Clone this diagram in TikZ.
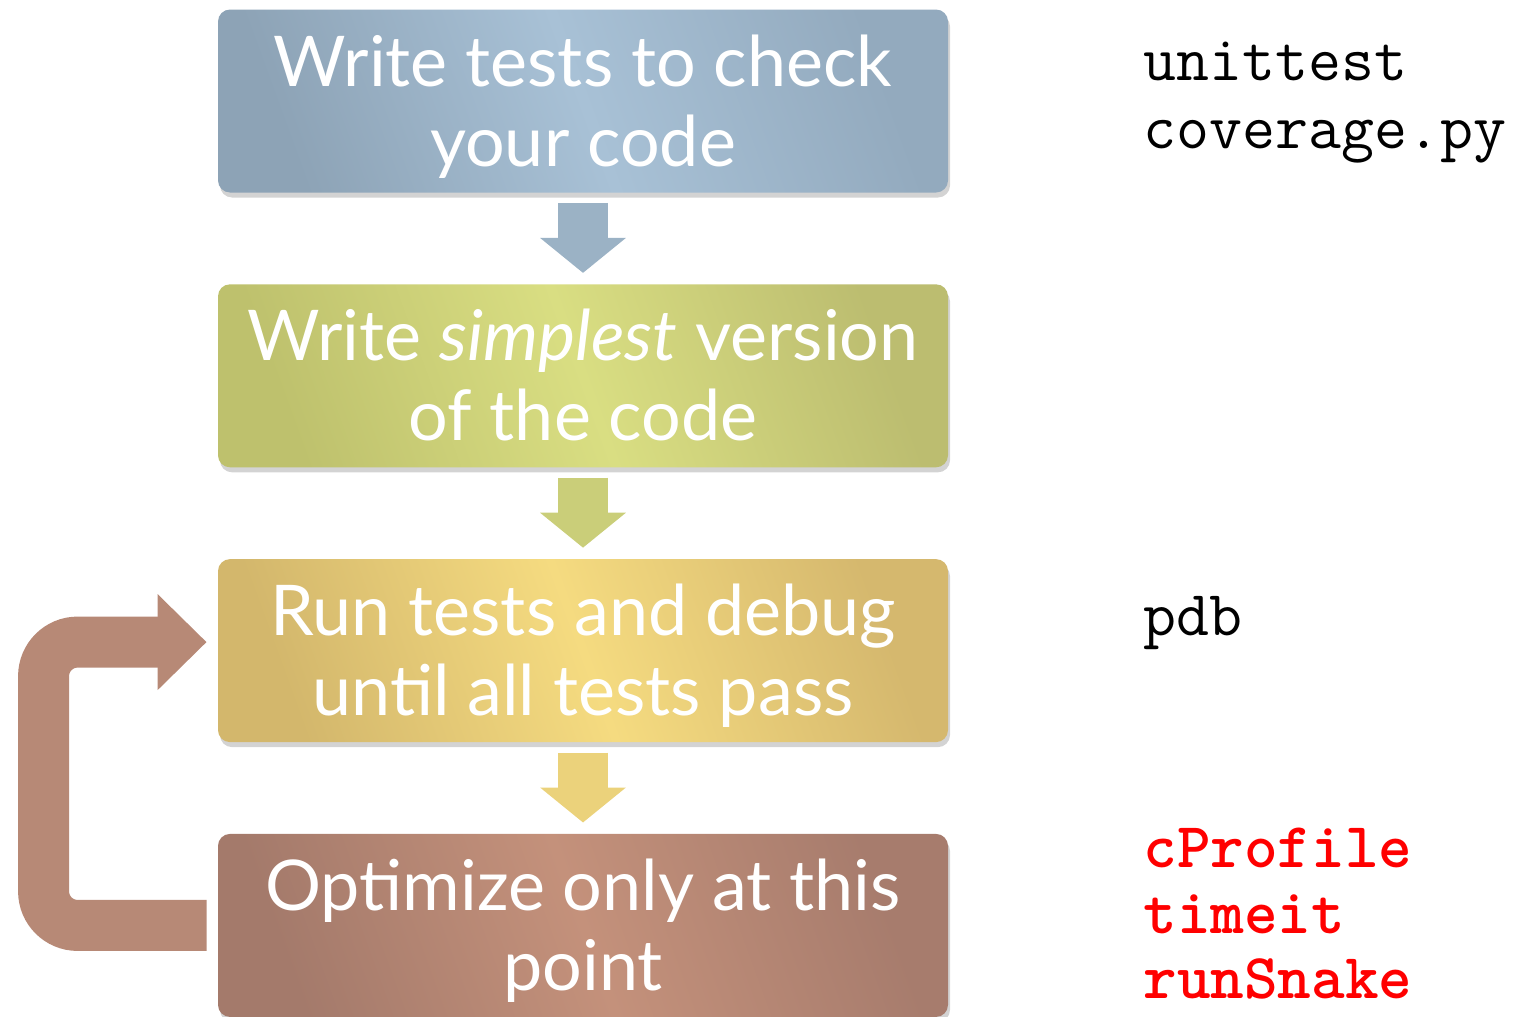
\documentclass[tikz,border=0pt]{standalone}
\usepackage{fontspec}
\setmainfont{Lato}
\usetikzlibrary{arrows.meta,positioning,calc,shadows}

\definecolor{testA}{HTML}{8DA3B6}
\definecolor{testB}{HTML}{A8C1D6}
\definecolor{testC}{HTML}{93AABE}
\definecolor{simpA}{HTML}{BEC16D}
\definecolor{simpB}{HTML}{D9DE82}
\definecolor{simpC}{HTML}{BCBD70}
\definecolor{runA}{HTML}{D3B76C}
\definecolor{runB}{HTML}{F5DB80}
\definecolor{runC}{HTML}{D5B86E}
\definecolor{optA}{HTML}{A47A6B}
\definecolor{optB}{HTML}{C4917B}
\definecolor{optC}{HTML}{A77C6D}
\definecolor{loopcol}{HTML}{B78976}

\begin{document}
\begin{tikzpicture}[node distance=45.5pt,
  stepbox/.style n args={3}{rounded corners=6pt, minimum width=365pt, minimum height=91.5pt,
    inner sep=0pt, align=center, text=white, font=\fontsize{35}{40}\selectfont,
    execute at begin node={\rule{0pt}{77pt}}, execute at end node={\rule[-12pt]{0pt}{12pt}},
    drop shadow={shadow xshift=1pt, shadow yshift=-2.5pt, opacity=0.35},
    left color=#1, right color=#3, middle color=#2, shading angle=110},
  flowarrow/.style={line width=25pt, draw=#1, shorten <=5pt, shorten >=5.5pt,
    -{Triangle[width=42pt, length=17.5pt]}},
  looparrow/.style={line width=25.5pt, draw=loopcol,
    -{Triangle[width=46.5pt, length=24.5pt]}},
  tool/.style={anchor=base west, inner sep=0pt, font=\ttfamily\fontsize{32}{34}\selectfont},
  hottool/.style={tool, text=red, font=\ttfamily\bfseries\fontsize{32}{34}\selectfont}]

\useasboundingbox (0,0) rectangle (757.5pt,-508.5pt);

% the four steps
\node[stepbox={testA}{testB}{testC}] (tests) at (291.5pt,-50.5pt) {Write tests to check\\your code};
\node[stepbox={simpA}{simpB}{simpC}] (simple) [below=of tests] {Write \textit{simplest} version\\of the code};
\node[stepbox={runA}{runB}{runC}] (debug) [below=of simple] {Run tests and debug\\until all tests pass};
\node[stepbox={optA}{optB}{optC}] (optim) [below=of debug] {Optimize only at this\\point};

% arrows
\draw[flowarrow=testB!92!black] (tests) -- (simple);
\draw[flowarrow=simpB!93!black] (simple) -- (debug);
\draw[flowarrow=runB!96!black] (debug) -- (optim);
\draw[looparrow] ([xshift=-5.5pt]optim.west) [rounded corners=17pt] -- ++(-81.5pt,0)
  |- ([xshift=-5.5pt,yshift=4.25pt]debug.west);

% tools
\node[tool] (unit) at (571.5pt,-40pt) {unittest};
\node[tool] (cover) at (571.5pt,-74pt) {coverage.py};
\node[tool] (pdb) at (571.5pt,-317.5pt) {pdb};
\node[hottool] (cprof) at (571.5pt,-433.5pt) {cProfile};
\node[hottool] (timeit) at (571.5pt,-466.5pt) {timeit};
\node[hottool] (snake) at (571.5pt,-499pt) {runSnake};
\end{tikzpicture}
\end{document}
